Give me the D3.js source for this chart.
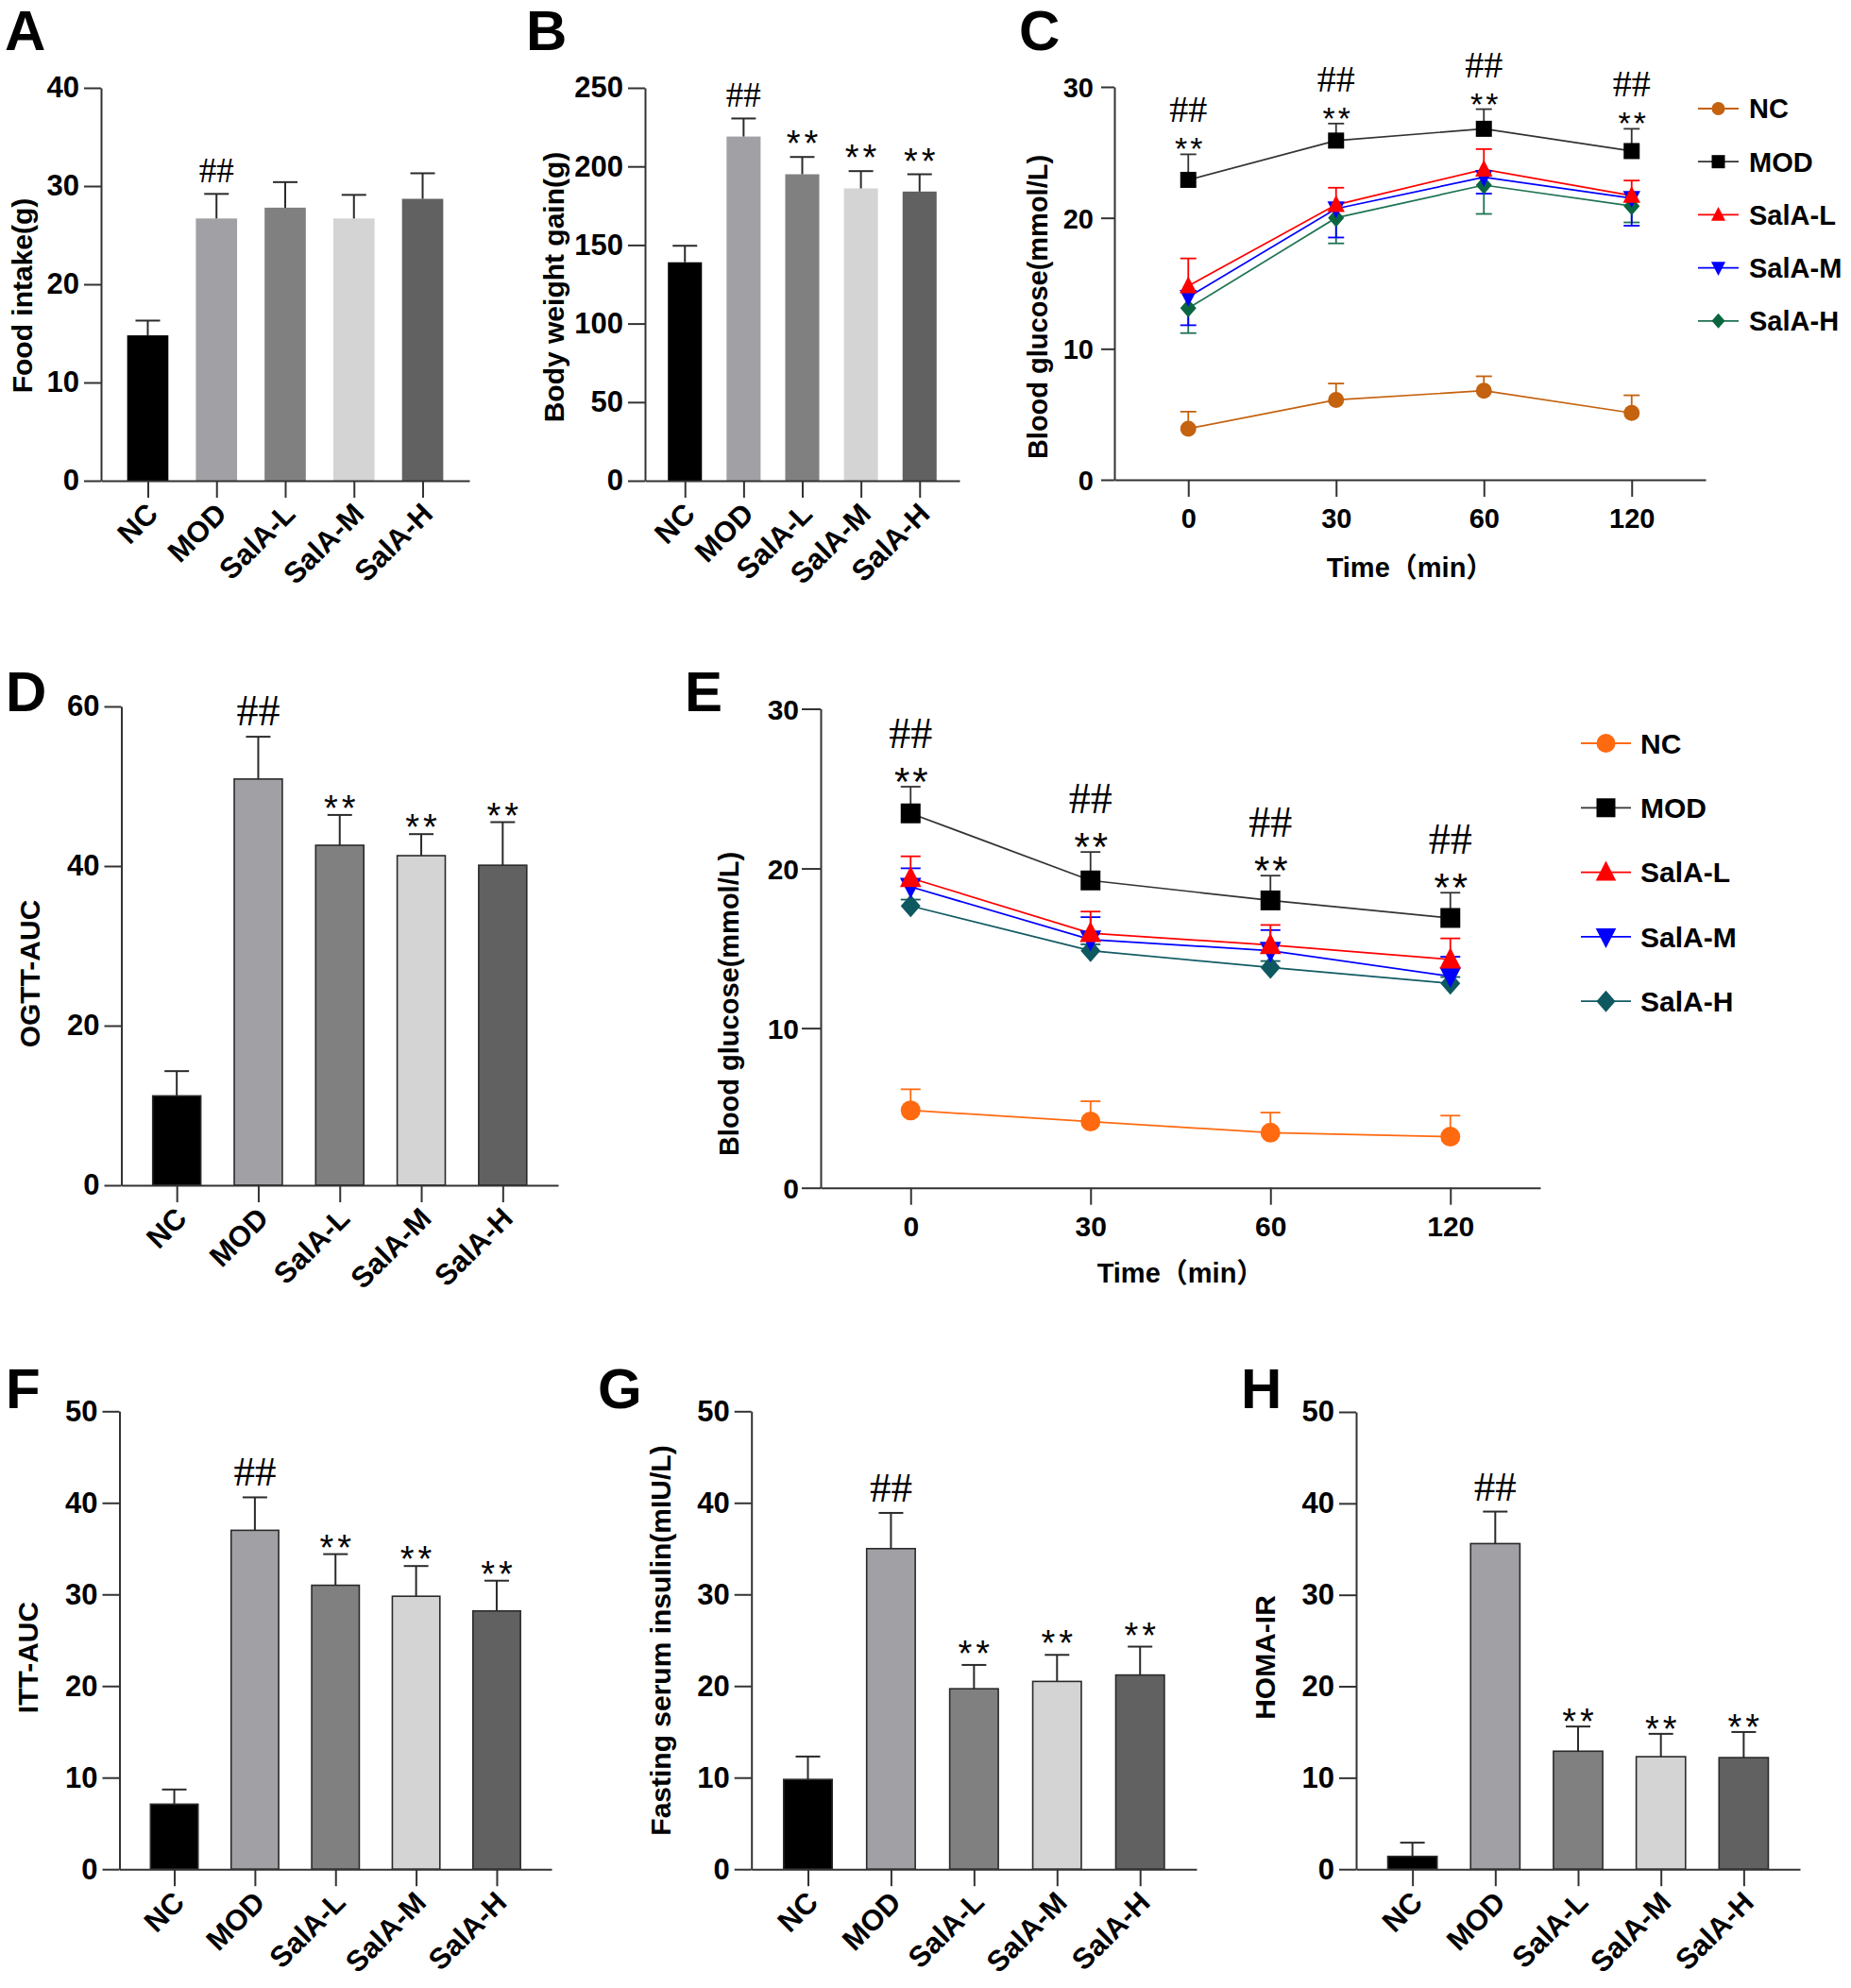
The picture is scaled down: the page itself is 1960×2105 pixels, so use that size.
<!DOCTYPE html>
<html><head><meta charset="utf-8">
<script src="https://d3js.org/d3.v7.min.js"></script>
<style>
html,body{margin:0;padding:0;background:#fff;}
svg{display:block;}
</style></head><body>
<svg id="fig" width="1960" height="2105"></svg>
<script>
// ---------------- DATA ----------------
const groups = ["NC", "MOD", "SalA-L", "SalA-M", "SalA-H"];

const foodIntake    = [14.8, 26.7, 27.8, 26.7, 28.7];
const foodIntakeErr = [1.5, 2.5, 2.6, 2.4, 2.6];
const foodIntakeSig = ["", "##", "", "", ""];

const bodyWeight    = [139, 219, 195, 186, 184];
const bodyWeightErr = [10.5, 11.5, 11, 11, 11];
const bodyWeightSig = ["", "##", "**", "**", "**"];

const ogttAUC    = [11.2, 50.9, 42.6, 41.3, 40.1];
const ogttAUCErr = [3.1, 5.3, 3.8, 2.7, 5.4];
const ogttAUCSig = ["", "##", "**", "**", "**"];

const ittAUC    = [7.1, 37.0, 31.0, 29.8, 28.2];
const ittAUCErr = [1.6, 3.6, 3.4, 3.3, 3.3];
const ittAUCSig = ["", "##", "**", "**", "**"];

const insulin    = [9.8, 35.0, 19.7, 20.5, 21.2];
const insulinErr = [2.5, 3.9, 2.6, 2.9, 3.1];
const insulinSig = ["", "##", "**", "**", "**"];

const homaIR    = [1.4, 35.6, 12.9, 12.3, 12.2];
const homaIRErr = [1.5, 3.5, 2.7, 2.5, 2.8];
const homaIRSig = ["", "##", "**", "**", "**"];

const timePoints = ["0", "30", "60", "120"];

// OGTT (panel C)
const ogttNC      = [3.9, 6.1, 6.8, 5.1];
const ogttNCErr   = [1.3, 1.25, 1.1, 1.35];
const ogttMOD     = [22.9, 25.9, 26.8, 25.1];
const ogttMODErr  = [1.95, 1.3, 1.5, 1.7];
const ogttSalAL   = [14.8, 21.0, 23.7, 21.7];
const ogttSalALErr= [2.1, 1.3, 1.55, 1.15];
const ogttSalAM   = [13.95, 20.7, 23.1, 21.5];
const ogttSalAMErr= [2.15, 2.2, 1.25, 2.1];
const ogttSalAH   = [13.1, 20.0, 22.5, 20.9];
const ogttSalAHErr= [1.9, 1.95, 2.2, 1.25];
const ogttErrSide = [1, 1, 1, -1, -1];   // +1 = SEM drawn upward, -1 = downward
const ogttSig     = ["##", "##", "##", "##"];
const ogttSig2    = ["**", "**", "**", "**"];

// ITT (panel E)
const ittNC      = [4.85, 4.15, 3.45, 3.2];
const ittNCErr   = [1.32, 1.27, 1.26, 1.32];
const ittMOD     = [23.45, 19.25, 18.0, 16.9];
const ittMODErr  = [1.67, 1.78, 1.55, 1.58];
const ittSalAL   = [19.4, 15.95, 15.2, 14.3];
const ittSalALErr= [1.36, 1.35, 1.26, 1.32];
const ittSalAM   = [18.85, 15.55, 14.85, 13.25];
const ittSalAMErr= [1.16, 1.4, 1.29, 1.22];
const ittSalAH   = [17.65, 14.85, 13.8, 12.8];
const ittSalAHErr= [0.4, 0.4, 0.4, 0.4];
const ittErrSide = [1, 1, 1, 1, 1];
const ittSig     = ["##", "##", "##", "##"];
const ittSig2    = ["**", "**", "**", "**"];

// ---------------- STYLE ----------------
const barColors = ["#000000", "#A1A1A5", "#808080", "#D4D4D4", "#616161"];
const FONT = "'Liberation Sans', Arial, Helvetica, sans-serif";
const SERIF = "'Liberation Serif', 'Times New Roman', serif";
const AXIS = "#333333";

const svg = d3.select("#fig");

function styleAxis(g, fs) {
  g.selectAll("path.domain").attr("stroke", AXIS).attr("stroke-width", 2);
  g.selectAll("line").attr("stroke", AXIS).attr("stroke-width", 2);
  g.selectAll("text").attr("font-family", FONT).attr("font-weight", "bold")
    .attr("font-size", fs).attr("fill", "#000");
}

function addText(txt, x, y, opts) {
  return svg.append("text").text(txt).attr("x", x).attr("y", y)
    .attr("font-family", opts.family || FONT)
    .attr("font-weight", opts.weight || "bold")
    .attr("font-size", opts.size)
    .attr("text-anchor", opts.anchor || "start")
    .attr("letter-spacing", opts.ls || null)
    .attr("fill", "#000");
}

function yTitle(txt, bx, cy, size) {
  svg.append("text").text(txt)
    .attr("transform", `translate(${bx},${cy}) rotate(-90)`)
    .attr("font-family", FONT).attr("font-weight", "bold")
    .attr("font-size", size).attr("text-anchor", "middle").attr("fill", "#000");
}

function sigText(s, cx, base, hashSize, starSize) {
  if (s === "##") {
    addText("##", cx, base, {family: SERIF, weight: "normal", size: hashSize, anchor: "middle"});
  } else if (s === "**") {
    addText("**", cx + 2, base, {weight: "normal", size: starSize, anchor: "middle", ls: 4});
  }
}

// ---------------- BAR PANELS ----------------
function barPanel(cfg) {
  const g = svg.append("g");
  const x = d3.scalePoint().domain(groups).range([cfg.x0, cfg.x1]).padding(0.68);
  const y = d3.scaleLinear().domain([0, cfg.max]).range([cfg.y0, cfg.yTop]);
  const bw = x.step() * cfg.barFrac;

  g.selectAll("rect.bar").data(cfg.values).join("rect").attr("class", "bar")
    .attr("x", (d, i) => x(groups[i]) - bw / 2)
    .attr("y", d => y(d))
    .attr("width", bw)
    .attr("height", d => cfg.y0 - y(d))
    .attr("fill", (d, i) => barColors[i])
    .attr("stroke", cfg.outline ? "#2a2a2a" : "none")
    .attr("stroke-width", 1.6);

  // error bars (upward SEM)
  const cap = 26;
  cfg.values.forEach((v, i) => {
    const cx = x(groups[i]);
    const yt = y(v + cfg.errs[i]);
    g.append("line").attr("x1", cx).attr("x2", cx).attr("y1", y(v)).attr("y2", yt)
      .attr("stroke", "#2a2a2a").attr("stroke-width", 2);
    g.append("line").attr("x1", cx - cap / 2).attr("x2", cx + cap / 2).attr("y1", yt).attr("y2", yt)
      .attr("stroke", "#2a2a2a").attr("stroke-width", 2);
  });

  const gy = g.append("g").attr("transform", `translate(${cfg.x0},0)`)
    .call(d3.axisLeft(y).tickValues(cfg.ticks).tickSize(18).tickSizeOuter(0).tickPadding(5));
  styleAxis(gy, 31);

  const gx = g.append("g").attr("transform", `translate(0,${cfg.y0})`)
    .call(d3.axisBottom(x).tickSize(18).tickSizeOuter(0));
  styleAxis(gx, 31);
  gx.selectAll("text").attr("x", 0).attr("y", 0).attr("dy", null)
    .attr("transform", "translate(12,37) rotate(-45)").attr("text-anchor", "end");

  cfg.sig.forEach((s, i) => {
    if (!s) return;
    const top = y(cfg.values[i] + cfg.errs[i]);
    const base = s === "##" ? top - 12 : top + cfg.starOff;
    sigText(s, x(groups[i]), base, cfg.hashSize, 38);
  });

  yTitle(cfg.title, cfg.titleX, cfg.titleY, 30);
  addText(cfg.letter, cfg.letterX, cfg.letterY, {size: 60});
}

barPanel({values: foodIntake, errs: foodIntakeErr, sig: foodIntakeSig, max: 40, ticks: [0, 10, 20, 30, 40],
  x0: 107, x1: 497, yTop: 93, y0: 509, barFrac: 0.6, outline: false, hashSize: 37, starOff: 2,
  title: "Food intake(g)", titleX: 34, titleY: 313, letter: "A", letterX: 5, letterY: 53});

barPanel({values: bodyWeight, errs: bodyWeightErr, sig: bodyWeightSig, max: 250, ticks: [0, 50, 100, 150, 200, 250],
  x0: 683, x1: 1016, yTop: 93, y0: 509, barFrac: 0.58, outline: false, hashSize: 37, starOff: -1,
  title: "Body weight gain(g)", titleX: 597, titleY: 304, letter: "B", letterX: 557, letterY: 53});

barPanel({values: ogttAUC, errs: ogttAUCErr, sig: ogttAUCSig, max: 60, ticks: [0, 20, 40, 60],
  x0: 128.5, x1: 591, yTop: 748, y0: 1255, barFrac: 0.59, outline: true, hashSize: 46, starOff: 6,
  title: "OGTT-AUC", titleX: 41.5, titleY: 1031, letter: "D", letterX: 6, letterY: 753});

barPanel({values: ittAUC, errs: ittAUCErr, sig: ittAUCSig, max: 50, ticks: [0, 10, 20, 30, 40, 50],
  x0: 126.5, x1: 584, yTop: 1494.3, y0: 1979.2, barFrac: 0.59, outline: true, hashSize: 45, starOff: 6,
  title: "ITT-AUC", titleX: 39.5, titleY: 1755, letter: "F", letterX: 6, letterY: 1491});

barPanel({values: insulin, errs: insulinErr, sig: insulinSig, max: 50, ticks: [0, 10, 20, 30, 40, 50],
  x0: 795.7, x1: 1267, yTop: 1494.3, y0: 1979.2, barFrac: 0.585, outline: true, hashSize: 45, starOff: 1,
  title: "Fasting serum insulin(mIU/L)", titleX: 710, titleY: 1737, letter: "G", letterX: 633, letterY: 1491});

barPanel({values: homaIR, errs: homaIRErr, sig: homaIRSig, max: 50, ticks: [0, 10, 20, 30, 40, 50],
  x0: 1436, x1: 1906, yTop: 1495, y0: 1979.2, barFrac: 0.595, outline: true, hashSize: 45, starOff: 8,
  title: "HOMA-IR", titleX: 1350, titleY: 1755, letter: "H", letterX: 1314, letterY: 1491});

// ---------------- LINE PANELS ----------------
function symbolPath(shape, r) {
  const p = d3.path();
  if (shape === "circle") { p.arc(0, 0, r, 0, 2 * Math.PI); }
  else if (shape === "square") { p.rect(-r, -r, 2 * r, 2 * r); }
  else if (shape === "triUp") { p.moveTo(0, -r * 1.2); p.lineTo(r * 1.08, r * 0.9); p.lineTo(-r * 1.08, r * 0.9); p.closePath(); }
  else if (shape === "triDown") { p.moveTo(0, r * 1.2); p.lineTo(r * 1.08, -r * 0.9); p.lineTo(-r * 1.08, -r * 0.9); p.closePath(); }
  else if (shape === "diamond") { p.moveTo(0, -r * 1.15); p.lineTo(r * 1.0, 0); p.lineTo(0, r * 1.15); p.lineTo(-r * 1.0, 0); p.closePath(); }
  return p.toString();
}
const shapes = ["circle", "square", "triUp", "triDown", "diamond"];

function linePanel(cfg) {
  const g = svg.append("g");
  const x = d3.scalePoint().domain(timePoints).range([cfg.x0, cfg.x1]).padding(0.5);
  const y = d3.scaleLinear().domain([0, 30]).range([cfg.y0, cfg.yTop]);

  const gy = g.append("g").attr("transform", `translate(${cfg.x0},0)`)
    .call(d3.axisLeft(y).tickValues([0, 10, 20, 30]).tickSize(cfg.yTick).tickSizeOuter(0).tickPadding(cfg.yPad));
  styleAxis(gy, cfg.tickFont);
  gy.selectAll("text").attr("dy", "0.36em");
  const gx = g.append("g").attr("transform", `translate(0,${cfg.y0})`)
    .call(d3.axisBottom(x).tickSize(18).tickSizeOuter(0).tickPadding(12));
  styleAxis(gx, cfg.tickFont);

  const series = cfg.series;
  const order = d3.range(series.length).reverse();
  const line = d3.line().x((d, i) => x(timePoints[i])).y(d => y(d));

  order.forEach(k => {
    g.append("path").attr("d", line(series[k].v)).attr("fill", "none")
      .attr("stroke", series[k].line).attr("stroke-width", 1.7);
  });
  order.forEach(k => {
    const s = series[k];
    s.v.forEach((v, i) => {
      const cx = x(timePoints[i]);
      const ye = y(v + cfg.side[k] * s.e[i]);
      g.append("line").attr("x1", cx).attr("x2", cx).attr("y1", y(v)).attr("y2", ye)
        .attr("stroke", s.line).attr("stroke-width", 1.8);
      g.append("line").attr("x1", cx - cfg.cap / 2).attr("x2", cx + cfg.cap / 2).attr("y1", ye).attr("y2", ye)
        .attr("stroke", s.line).attr("stroke-width", 1.8);
    });
  });
  order.forEach(k => {
    const s = series[k];
    s.v.forEach((v, i) => {
      g.append("path").attr("d", symbolPath(shapes[k], cfg.r))
        .attr("transform", `translate(${x(timePoints[i])},${y(v)})`)
        .attr("fill", s.fill);
    });
  });

  // significance above MOD
  const mod = series[1];
  mod.v.forEach((v, i) => {
    const top = y(v + mod.e[i]);
    const cx = x(timePoints[i]);
    addText(cfg.sig2[i], cx + 2, top + cfg.starOff, {weight: "normal", size: cfg.starSize, anchor: "middle", ls: 3});
    addText(cfg.sig[i], cx, top - cfg.hashOff, {family: SERIF, weight: "normal", size: cfg.hashSize, anchor: "middle"});
  });

  // legend
  series.forEach((s, k) => {
    const ry = cfg.legY + k * cfg.legGap;
    g.append("line").attr("x1", cfg.legX0).attr("x2", cfg.legX1).attr("y1", ry).attr("y2", ry)
      .attr("stroke", s.line).attr("stroke-width", 1.8);
    g.append("path").attr("d", symbolPath(shapes[k], cfg.legR))
      .attr("transform", `translate(${(cfg.legX0 + cfg.legX1) / 2},${ry})`).attr("fill", s.fill);
    addText(groups[k], cfg.legText, ry + cfg.legFont * 0.36, {size: cfg.legFont});
  });

  addText("Time（min）", (cfg.x0 + cfg.x1) / 2, cfg.xTitleY, {size: 29, anchor: "middle"})
    .attr("font-family", "'Liberation Sans', 'Noto Sans CJK SC', sans-serif");
  yTitle("Blood glucose(mmol/L)", cfg.titleX, cfg.titleY, 29);
  addText(cfg.letter, cfg.letterX, cfg.letterY, {size: 60});
}

linePanel({
  x0: 1180, x1: 1806, yTop: 92, y0: 508, yTick: 14, yPad: 8, tickFont: 29,
  r: 8.5, cap: 17, side: ogttErrSide, sig: ogttSig, sig2: ogttSig2,
  starSize: 34, starOff: 6, hashSize: 40, hashOff: 34,
  series: [
    {v: ogttNC, e: ogttNCErr, line: "#C4620F", fill: "#C4620F"},
    {v: ogttMOD, e: ogttMODErr, line: "#333333", fill: "#000000"},
    {v: ogttSalAL, e: ogttSalALErr, line: "#FF0000", fill: "#FF0000"},
    {v: ogttSalAM, e: ogttSalAMErr, line: "#0000FF", fill: "#0000FF"},
    {v: ogttSalAH, e: ogttSalAHErr, line: "#1E7352", fill: "#0A6640"}
  ],
  legX0: 1798, legX1: 1841, legText: 1852, legY: 115, legGap: 56.2, legR: 7, legFont: 29,
  xTitleY: 611, titleX: 1109, titleY: 325, letter: "C", letterX: 1079, letterY: 53
});

linePanel({
  x0: 869, x1: 1631, yTop: 750.5, y0: 1257.7, yTick: 20, yPad: 3, tickFont: 30,
  r: 10.5, cap: 21, side: ittErrSide, sig: ittSig, sig2: ittSig2,
  starSize: 42, starOff: 9, hashSize: 46, hashOff: 41,
  series: [
    {v: ittNC, e: ittNCErr, line: "#FF6A10", fill: "#FF6A10"},
    {v: ittMOD, e: ittMODErr, line: "#333333", fill: "#000000"},
    {v: ittSalAL, e: ittSalALErr, line: "#FF0000", fill: "#FF0000"},
    {v: ittSalAM, e: ittSalAMErr, line: "#0000FF", fill: "#0000FF"},
    {v: ittSalAH, e: ittSalAHErr, line: "#115B63", fill: "#0E5860"}
  ],
  legX0: 1674, legX1: 1727, legText: 1737, legY: 787, legGap: 68.3, legR: 10, legFont: 30,
  xTitleY: 1358, titleX: 782, titleY: 1063, letter: "E", letterX: 725, letterY: 753
});
</script>
</body></html>
